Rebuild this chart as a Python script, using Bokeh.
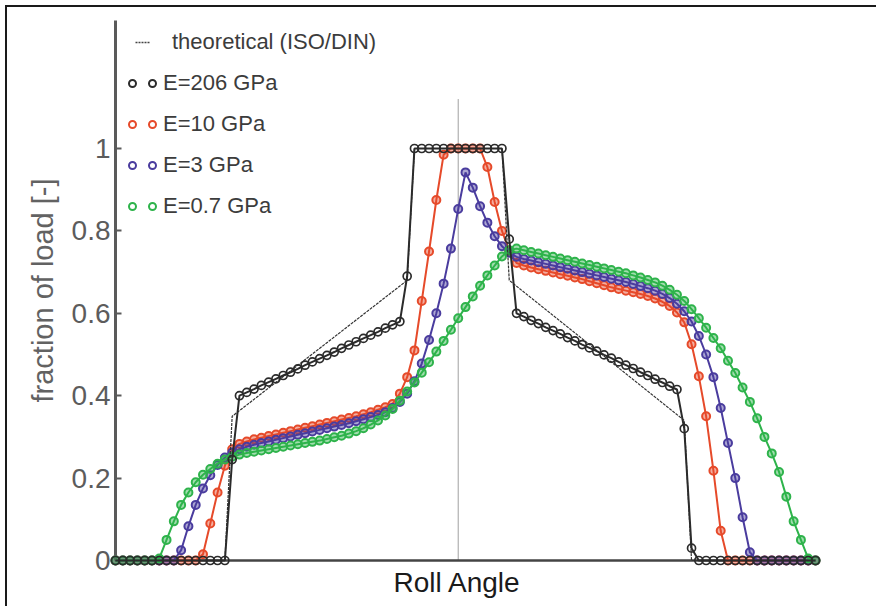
from bokeh.plotting import figure
from bokeh.models import (Range1d, FixedTicker, CustomJSTickFormatter, Legend,
                          LegendItem, ColumnDataSource, Title)
from bokeh.embed import file_html
from bokeh.resources import INLINE

# ---------------- data ----------------
roll_angle = list(range(-47, 50))          # roll-angle steps, 0 = pitch point

load_206 = ([0.0] * 16 +
            [0.245, 0.400, 0.408, 0.416, 0.425, 0.433, 0.441, 0.449, 0.457, 0.465,
             0.474, 0.482, 0.490, 0.498, 0.506, 0.515, 0.523, 0.531, 0.539, 0.547,
             0.555, 0.564, 0.572, 0.580, 0.690] +
            [1.0] * 13 +
            [0.780, 0.600, 0.592, 0.583, 0.575, 0.566, 0.558, 0.550, 0.541, 0.533,
             0.524, 0.516, 0.508, 0.499, 0.491, 0.482, 0.474, 0.466, 0.457, 0.449,
             0.440, 0.432, 0.423, 0.415, 0.320, 0.030] +
            [0.0] * 17)

load_10 = ([0.0] * 12 +
           [0.015, 0.090, 0.165, 0.230, 0.270, 0.283, 0.289, 0.294, 0.298, 0.302,
            0.306, 0.310, 0.314, 0.318, 0.322, 0.326, 0.330, 0.334, 0.338, 0.342,
            0.346, 0.350, 0.355, 0.360, 0.366, 0.372, 0.380, 0.405, 0.445, 0.510,
            0.630, 0.750, 0.875, 0.985] +
           [1.0, 1.0, 1.0, 1.0, 1.0] +
           [0.955, 0.870, 0.800, 0.752, 0.722, 0.716, 0.711, 0.707, 0.703, 0.699,
            0.695, 0.691, 0.687, 0.683, 0.678, 0.673, 0.668, 0.663, 0.659, 0.655,
            0.651, 0.647, 0.642, 0.636, 0.628, 0.618, 0.602, 0.578, 0.525, 0.447,
            0.350, 0.218, 0.072] +
           [0.0] * 13)

load_3 = ([0.0] * 9 +
          [0.025, 0.083, 0.135, 0.175, 0.207, 0.232, 0.250, 0.262, 0.270, 0.276,
           0.281, 0.285, 0.289, 0.293, 0.297, 0.301, 0.305, 0.309, 0.313, 0.317,
           0.321, 0.325, 0.329, 0.333, 0.338, 0.343, 0.348, 0.353, 0.360, 0.370,
           0.385, 0.405, 0.435, 0.478, 0.535, 0.600, 0.672, 0.757, 0.853, 0.942,
           0.905, 0.860, 0.820, 0.787, 0.763, 0.747, 0.737, 0.732, 0.728, 0.724,
           0.720, 0.716, 0.712, 0.708, 0.704, 0.700, 0.696, 0.692, 0.688, 0.684,
           0.680, 0.676, 0.671, 0.666, 0.661, 0.655, 0.647, 0.637, 0.623, 0.605,
           0.580, 0.545, 0.500, 0.445, 0.370, 0.285, 0.200, 0.105, 0.020] +
          [0.0] * 9)

load_07 = ([0.0] * 6 +
           [0.005, 0.050, 0.095, 0.135, 0.165, 0.190, 0.208, 0.222, 0.235, 0.245,
            0.252, 0.257, 0.261, 0.264, 0.267, 0.270, 0.273, 0.276, 0.279, 0.282,
            0.285, 0.288, 0.291, 0.295, 0.299, 0.303, 0.308, 0.314, 0.321, 0.330,
            0.340, 0.352, 0.368, 0.388, 0.410, 0.432, 0.456, 0.481, 0.507, 0.533,
            0.560, 0.588, 0.615, 0.641, 0.667, 0.692, 0.716, 0.738, 0.753, 0.757,
            0.753, 0.749, 0.745, 0.741, 0.737, 0.733, 0.729, 0.725, 0.721, 0.717,
            0.713, 0.709, 0.705, 0.701, 0.697, 0.692, 0.687, 0.681, 0.675, 0.667,
            0.657, 0.645, 0.630, 0.610, 0.588, 0.565, 0.540, 0.515, 0.485, 0.455,
            0.420, 0.385, 0.345, 0.300, 0.260, 0.215, 0.155, 0.095, 0.050, 0.005] +
           [0.0])

theo_angle = [-47, -32, -31, -7, -6, 6, 7, 31, 32, 49]
theo_load = [0.0, 0.0, 0.35, 0.68, 1.0, 1.0, 0.68, 0.34, 0.0, 0.0]

pitch_angle = 0
pitch_line_top = 1.12

y_ticks = [0, 0.2, 0.4, 0.6, 0.8, 1]
y_tick_labels = ["0", "0.2", "0.4", "0.6", "0.8", "1"]

x_title = "Roll Angle"
y_title = "fraction of load [-]"
theo_label = "theoretical (ISO/DIN)"
series_labels = ["E=206 GPa", "E=10 GPa", "E=3 GPa", "E=0.7 GPa"]
series_keys = ["e206", "e10", "e3", "e07"]
series_colors = ["#2b2b2b", "#e64a2a", "#4a3c9e", "#2eb34b"]

FONT = "Liberation Sans"
NAN = float("nan")

# ---------------- figure ----------------
p = figure(width=871, height=601, output_backend="svg", toolbar_location=None,
           x_range=Range1d(-47, 49), y_range=Range1d(0, 540 / 412),
           min_border_left=108, min_border_right=63,
           min_border_top=13, min_border_bottom=48)
p.styles = {"margin-left": "5px", "margin-top": "5px",
            "border-left": "2px solid #1a1a1a", "border-top": "2px solid #1a1a1a"}
p.outline_line_color = None
p.grid.visible = False
p.background_fill_color = "white"
p.border_fill_color = "white"

src = ColumnDataSource(dict(angle=roll_angle, e206=load_206, e10=load_10,
                            e3=load_3, e07=load_07))

# pitch-point reference line
p.segment(x0=[pitch_angle], y0=[0], x1=[pitch_angle], y1=[pitch_line_top],
          line_color="#a0a0a0", line_width=1)

# colored series (drawn first), then theoretical, then E=206 on top
for key, color in zip(series_keys[1:], series_colors[1:]):
    p.line("angle", key, source=src, line_color=color, line_width=2, level="overlay")
    p.scatter("angle", key, source=src, marker="circle", size=8,
              line_color=color, fill_color=color, fill_alpha=0.45, line_width=2,
              level="overlay")

p.line(theo_angle, theo_load, line_color="#333333", line_width=1.2,
       line_dash="3 1", level="overlay")

p.line("angle", "e206", source=src, line_color=series_colors[0], line_width=2,
       level="overlay")
p.scatter("angle", "e206", source=src, marker="circle", size=8,
          line_color=series_colors[0], fill_color=None, line_width=1.7,
          level="overlay")

# ---------------- axes ----------------
yax = p.yaxis[0]
yax.ticker = FixedTicker(ticks=y_ticks)
yax.formatter = CustomJSTickFormatter(
    args=dict(tick_values=y_ticks, tick_texts=y_tick_labels),
    code="const i = tick_values.indexOf(tick); return i >= 0 ? tick_texts[i] : String(tick);")
yax.axis_label = y_title
yax.axis_label_text_font = FONT
yax.axis_label_text_font_size = "29px"
yax.axis_label_text_font_style = "normal"
yax.axis_label_text_color = "#626262"
yax.axis_label_standoff = 10
yax.major_label_text_font = FONT
yax.major_label_text_font_size = "28px"
yax.major_label_text_color = "#5c5c5c"
yax.major_label_standoff = 5
yax.axis_line_color = "#5a5a5a"
yax.axis_line_width = 3
yax.major_tick_line_color = "#5a5a5a"
yax.major_tick_line_width = 2
yax.major_tick_in = 6
yax.major_tick_out = 0
yax.minor_tick_line_color = None

xax = p.xaxis[0]
xax.ticker = FixedTicker(ticks=[])
xax.major_label_standoff = 0
xax.axis_line_color = "#444444"
xax.axis_line_width = 2.5
xax.major_tick_line_color = None
xax.minor_tick_line_color = None

# x-axis title, placed a little left of the frame centre as in the reference
p.add_layout(Title(text=x_title, align="left", offset=278, standoff=8,
                   text_font=FONT, text_font_size="28px", text_font_style="normal",
                   text_color="#1a1a1a"), "below")

# ---------------- legends ----------------
common = dict(location="top_left", margin=9, padding=0, spacing=15,
              glyph_height=26, label_height=26, label_standoff=4,
              label_text_font=FONT, label_text_font_size="22px",
              label_text_color="#3c3c3c", background_fill_alpha=0,
              border_line_color=None)

theo_key = p.line([NAN, NAN], [NAN, NAN], line_color="#444444", line_width=1.5,
                  line_dash="0 11 2 1 2 1 2 1 2 1 2 30")
legend_theo = Legend(items=[LegendItem(label=theo_label, renderers=[theo_key])],
                     glyph_width=44, **common)

blank_key = p.line([NAN, NAN], [NAN, NAN], line_alpha=0)
items = [LegendItem(label=" ", renderers=[blank_key])]
for lab, color in zip(series_labels, series_colors):
    ring = p.line([NAN, NAN], [NAN, NAN], line_color=color, line_width=9,
                  line_cap="round", line_dash="0 20", line_dash_offset=12)
    hole = p.line([NAN, NAN], [NAN, NAN], line_color="white", line_width=5,
                  line_cap="round", line_dash="0 20", line_dash_offset=12)
    items.append(LegendItem(label=lab, renderers=[ring, hole]))
legend_series = Legend(items=items, glyph_width=35, **common)

p.add_layout(legend_theo)
p.add_layout(legend_series)

open("out.html", "w").write(file_html(p, INLINE))
